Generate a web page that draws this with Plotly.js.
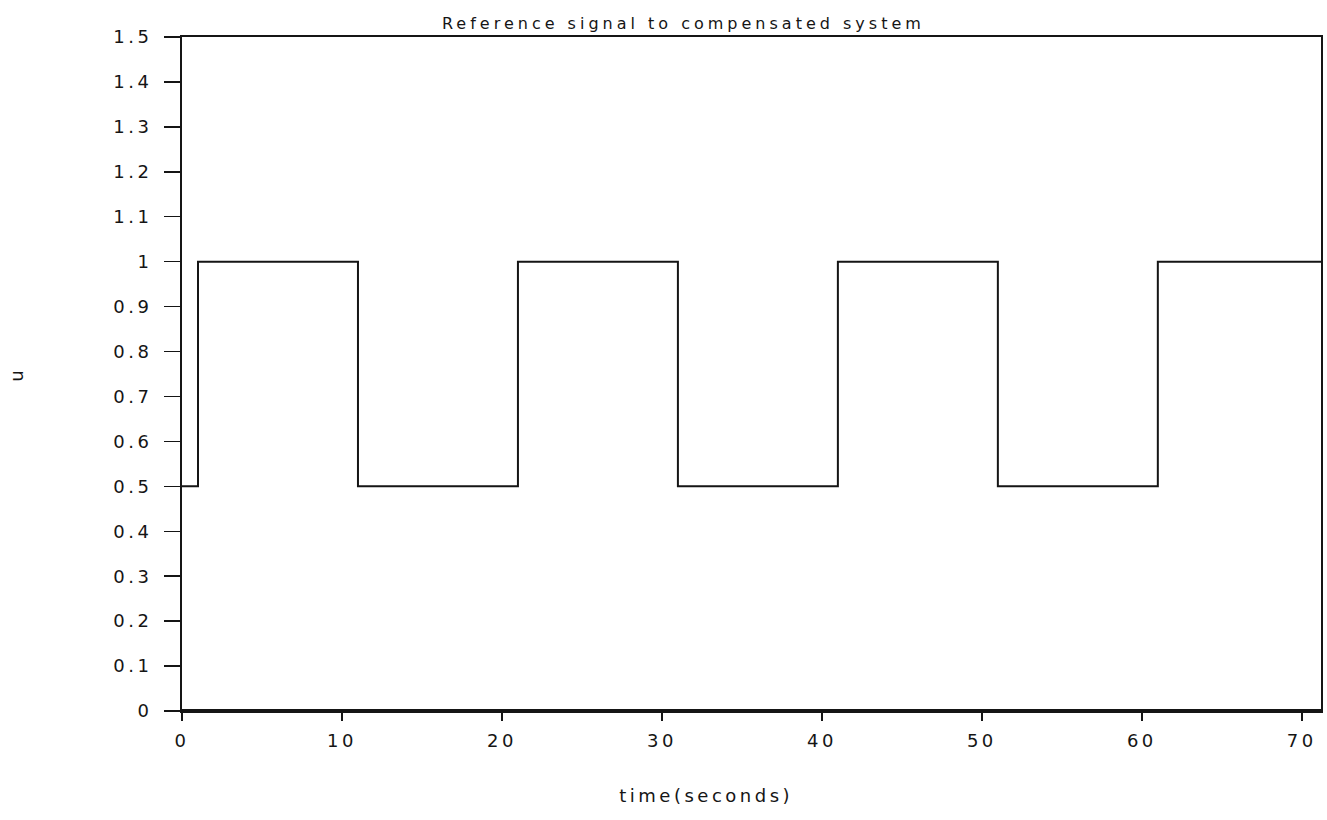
<!DOCTYPE html>
<html>
<head>
<meta charset="utf-8">
<script src="https://cdn.plot.ly/plotly-3.0.1.min.js"></script>
<style>
html,body{margin:0;padding:0;background:#fff;}
#chart{width:1327px;height:820px;}
.main-svg text{letter-spacing:3.5px;}
.main-svg .gtitle{letter-spacing:4px;}
</style>
</head>
<body>
<div id="chart"></div>
<script>
// Data
const switchTimes = [0, 1, 11, 21, 31, 41, 51, 61, 71.2];   // seconds
const refLevels   = [0.5, 1, 0.5, 1, 0.5, 1, 0.5, 1, 1];    // u
const baseTimes   = [0, 71.2];
const baseLevels  = [0, 0];
const xTickVals   = [0, 10, 20, 30, 40, 50, 60, 70];
const yTickVals   = [0, 0.1, 0.2, 0.3, 0.4, 0.5, 0.6, 0.7, 0.8, 0.9, 1, 1.1, 1.2, 1.3, 1.4, 1.5];
const yTickText   = ['0','0.1','0.2','0.3','0.4','0.5','0.6','0.7','0.8','0.9','1','1.1','1.2','1.3','1.4','1.5'];

const ink = '#151515';
const fontFam = '"DejaVu Sans", "Liberation Sans", sans-serif';

const traces = [
  {x: baseTimes, y: baseLevels, mode: 'lines', line: {color: ink, width: 4}, hoverinfo: 'skip', showlegend: false},
  {x: switchTimes, y: refLevels, mode: 'lines', line: {color: ink, width: 2, shape: 'hv'}, showlegend: false}
];

const layout = {
  width: 1327, height: 820,
  paper_bgcolor: '#fff', plot_bgcolor: '#fff',
  margin: {l: 182, r: 6, t: 37, b: 109},
  font: {family: fontFam, color: ink, size: 18},
  title: {text: 'Reference signal to compensated system', font: {family: fontFam, size: 16, color: ink},
          x: 0.515, xanchor: 'center', y: 0.971, yanchor: 'middle'},
  xaxis: {
    range: [0, 71.2], tickvals: xTickVals, ticks: 'outside', ticklen: 8, tickwidth: 1.5, tickcolor: ink,
    showline: true, linecolor: ink, linewidth: 2, mirror: true, showgrid: false, zeroline: false,
    tickfont: {family: fontFam, size: 18, color: ink}, ticklabelstandoff: 4
  },
  yaxis: {
    range: [0, 1.5], tickvals: yTickVals, ticktext: yTickText, ticks: 'outside', ticklen: 16, tickwidth: 1.5, tickcolor: ink,
    showline: true, linecolor: ink, linewidth: 2, mirror: true, showgrid: false, zeroline: false,
    tickfont: {family: fontFam, size: 18, color: ink}, ticklabelstandoff: 8
  },
  annotations: [
    {text: 'time(seconds)', xref: 'paper', yref: 'paper', x: (706 - 182) / 1139, y: -(795 - 711) / 674,
     xanchor: 'center', yanchor: 'middle', showarrow: false, font: {family: fontFam, size: 18, color: ink}},
    {text: 'u', xref: 'paper', yref: 'paper', x: (16 - 182) / 1139, y: (711 - 375) / 674,
     xanchor: 'center', yanchor: 'middle', textangle: -90, showarrow: false, font: {family: fontFam, size: 18, color: ink}}
  ]
};

Plotly.newPlot('chart', traces, layout, {displayModeBar: false, staticPlot: true});
</script>
</body>
</html>
